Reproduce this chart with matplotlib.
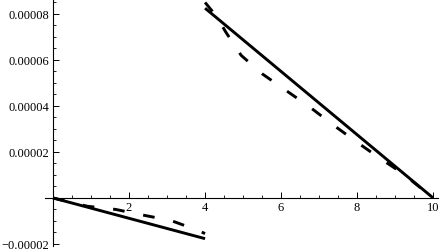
import matplotlib
matplotlib.use("Agg")
import matplotlib.pyplot as plt
import numpy as np

# solid curves (two branches)
solid_x1 = [0, 4]
solid_y1 = [0, -1.77e-5]
solid_x2 = [4, 10]
solid_y2 = [8.25e-5, 0]

# dashed curves (two branches)
dash_x1 = [0, 0.9, 1.65, 2.35, 3.1, 3.8, 4.0]
dash_y1 = [0, -0.36e-5, -0.5e-5, -0.74e-5, -0.98e-5, -1.4e-5, -1.55e-5]
dash_x2 = [4.0, 4.3, 4.55, 4.95, 5.5, 6.15, 6.75, 7.35, 7.95, 8.55, 9.18, 10]
dash_y2 = [8.5e-5, 7.9e-5, 7.2e-5, 6.2e-5, 5.4e-5, 4.65e-5, 3.96e-5, 3.2e-5,
           2.48e-5, 1.78e-5, 1.09e-5, 0]

x_major = [2, 4, 6, 8, 10]
x_labels = ["2", "4", "6", "8", "10"]
y_major = [-2e-5, 2e-5, 4e-5, 6e-5, 8e-5]
y_labels = ["\u22120.00002", "0.00002", "0.00004", "0.00006", "0.00008"]

plt.rcParams['font.family'] = ['Liberation Serif', 'DejaVu Serif']

fig = plt.figure(figsize=(4.43, 2.53), dpi=100)
ax = fig.add_axes([0, 0, 1, 1])

ax.plot(solid_x1, solid_y1, color='black', lw=2.1, solid_capstyle='butt')
ax.plot(solid_x2, solid_y2, color='black', lw=2.1, solid_capstyle='butt')
ax.plot(dash_x1, dash_y1, color='black', lw=2.1, dashes=(4, 6.5))
ax.plot(dash_x2, dash_y2, color='black', lw=2.1, dashes=(4, 6.5))

ax.set_xlim(-1.395, 10.26)
ax.set_ylim(-2.35e-5, 8.65e-5)

for s in ['top', 'right']:
    ax.spines[s].set_visible(False)
ax.spines['left'].set_position(('data', 0))
ax.spines['bottom'].set_position(('data', 0))
ax.spines['bottom'].set_bounds(-0.21, 10.13)
ax.spines['left'].set_bounds(-2.09e-5, 8.65e-5)
for s in ['left', 'bottom']:
    ax.spines[s].set_linewidth(0.8)

ax.set_xticks(x_major)
ax.set_xticklabels(x_labels)
ax.set_xticks(np.arange(0.5, 10.01, 0.5), minor=True)
ax.set_yticks(y_major)
ax.set_yticklabels(y_labels)
ax.set_yticks(np.arange(-2e-5, 8.6e-5, 0.5e-5), minor=True)

ax.tick_params(which='major', direction='in', length=4, width=0.7, labelsize=9, pad=3)
ax.tick_params(which='minor', direction='in', length=2.2, width=0.6)
ax.tick_params(axis='x', which='major', pad=2)

fig.savefig("out.png", dpi=100)
